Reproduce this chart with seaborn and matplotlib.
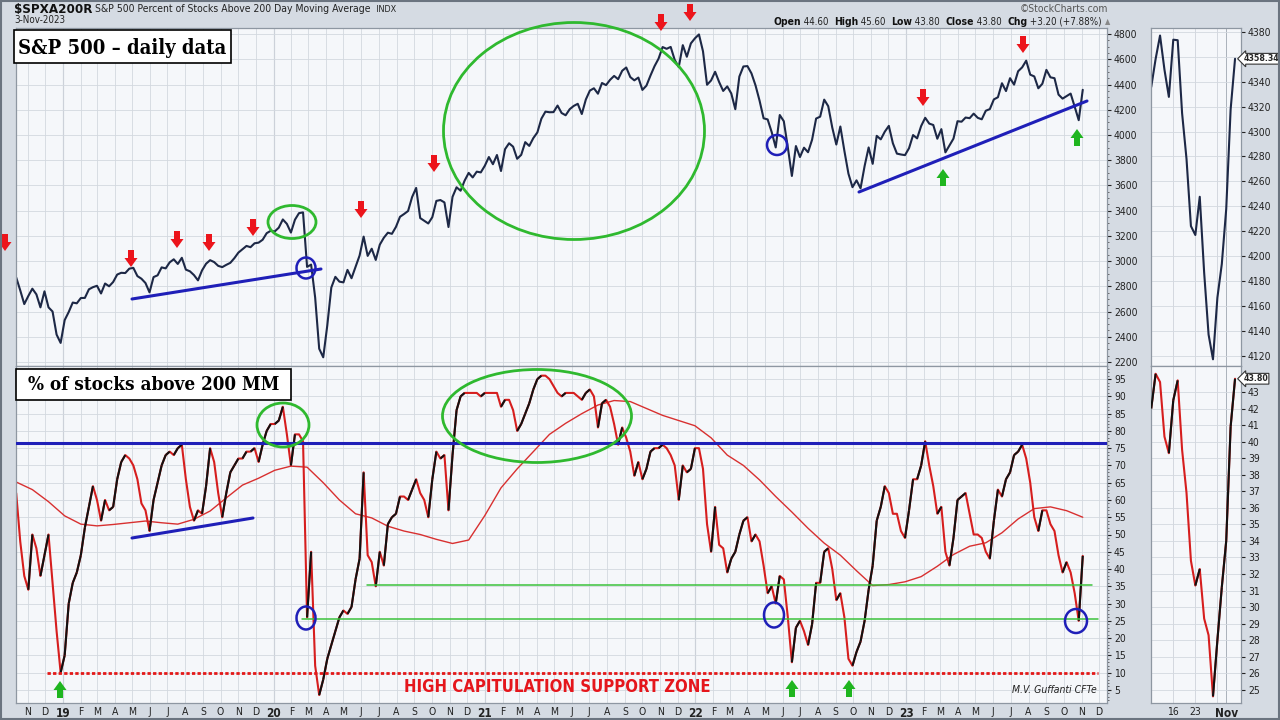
import numpy as np
import pandas as pd
import matplotlib
matplotlib.use("Agg")
import matplotlib.pyplot as plt
import matplotlib.dates as mdates
from matplotlib.collections import LineCollection
from matplotlib.patches import Ellipse, Polygon, Rectangle
from matplotlib.lines import Line2D
from matplotlib.ticker import MultipleLocator
from matplotlib import font_manager as fm
import seaborn as sns

# ---------------- DATA ----------------
WEEK_START = "2018-10-12"   # weekly samples (Fridays)

spx_close = [
    2870, 2768, 2659, 2723, 2781, 2736, 2633, 2760, 2633, 2600, 2417, 2351,
    2532, 2596, 2671, 2665, 2707, 2708, 2776, 2793, 2804, 2743, 2822, 2800,
    2834, 2893, 2907, 2905, 2940, 2946, 2881, 2860, 2826, 2752, 2873, 2887,
    2950, 2942, 2990, 3014, 2977, 3026, 2932, 2919, 2889, 2847, 2926, 2979,
    3007, 2992, 2962, 2952, 2970, 2986, 3023, 3067, 3093, 3120, 3110, 3141,
    3146, 3169, 3221, 3240, 3235, 3265, 3330, 3295, 3226, 3328, 3380, 3386,
    2954, 2972, 2711, 2305, 2237, 2489, 2790, 2875, 2837, 2831, 2930, 2864,
    2955, 3044, 3194, 3041, 3098, 3009, 3130, 3185, 3225, 3216, 3271, 3351,
    3373, 3397, 3508, 3580, 3341, 3319, 3298, 3348, 3477, 3484, 3465, 3270,
    3509, 3585, 3558, 3638, 3699, 3663, 3709, 3703, 3756, 3825, 3768, 3841,
    3714, 3887, 3934, 3907, 3811, 3842, 3943, 3913, 3975, 4020, 4129, 4185,
    4180, 4181, 4233, 4174, 4156, 4204, 4230, 4247, 4166, 4281, 4352, 4370,
    4327, 4412, 4395, 4437, 4468, 4442, 4509, 4535, 4459, 4433, 4455, 4357,
    4391, 4471, 4545, 4605, 4697, 4683, 4698, 4595, 4538, 4712, 4620, 4726,
    4766, 4797, 4663, 4398, 4432, 4501, 4419, 4349, 4385, 4329, 4204, 4463,
    4543, 4546, 4488, 4393, 4272, 4132, 4123, 4023, 3901, 4158, 4109, 3901,
    3675, 3912, 3825, 3899, 3863, 3962, 4130, 4145, 4280, 4228, 4058, 3924,
    4067, 3873, 3693, 3586, 3640, 3577, 3753, 3901, 3771, 3993, 3965, 4026,
    4072, 3934, 3852, 3845, 3840, 3895, 3999, 3973, 4071, 4136, 4090, 4079,
    3970, 4046, 3862, 3917, 3971, 4109, 4105, 4138, 4133, 4169, 4136, 4124,
    4192, 4205, 4282, 4299, 4410, 4348, 4450, 4399, 4505, 4536, 4589, 4478,
    4464, 4370, 4406, 4516, 4457, 4450, 4320, 4288, 4308, 4328, 4224, 4117,
    4358,
]

pct_above_200 = [
    62, 48, 38, 34, 50, 46, 38, 44, 50, 36, 22, 10,
    15, 30, 36, 39, 44, 52, 58, 64, 60, 54, 60, 57,
    58, 66, 71, 73, 72, 70, 66, 59, 57, 51, 60, 65,
    70, 73, 74, 73, 75, 76, 66, 58, 54, 57, 56, 64,
    75, 71, 62, 55, 62, 68, 70, 72, 72, 74, 74, 75,
    71, 76, 80, 82, 82, 83, 87, 79, 70, 79, 79, 77,
    26, 45, 12, 3.5, 8, 14, 18, 22, 26, 28, 27, 29,
    37, 43, 68, 44,
    42, 35, 45, 41, 53, 55, 56, 61, 61, 60, 63, 66,
    62, 60, 55, 66, 74, 72, 73, 57, 73, 86, 90, 91,
    91, 91, 91, 90, 91, 91, 91, 91, 87, 89, 89, 86,
    80, 82, 85, 88, 92, 95, 96, 96, 95, 93, 91, 90,
    91, 91, 91, 90, 89, 91, 92, 90, 81, 88, 89, 87,
    82, 76, 81, 78, 74, 67, 71, 66, 69, 74, 75, 75,
    76, 75, 73, 70, 60, 70, 68, 69, 75, 75, 69, 53,
    45, 58, 47, 46, 39, 43, 45, 50, 54, 55, 48, 50,
    48, 41, 33, 35, 30, 38, 37, 26, 13, 23, 25, 22,
    18, 24, 36, 36, 45, 46, 40, 31, 33, 26, 14, 12,
    16, 19, 25, 34, 41, 54, 58, 64, 62, 56, 56, 51,
    49, 57, 66, 66, 70, 77, 70, 64, 56, 58, 45, 41,
    49, 60, 61, 62, 56, 50, 50, 49, 45, 43, 54, 63,
    61, 66, 68, 73, 74, 76, 72, 65, 55, 51, 57, 57,
    53, 51, 44, 39, 42, 39, 33, 25, 43.8,
]

# 200-day moving average of the breadth line, one value every 4 weeks
pct_ma200_4w = [
    65.2, 63.0, 59.5, 55.4, 53.0, 52.5, 52.9, 53.4, 53.9, 53.4,
    53.0, 54.4, 56.8, 60.6, 64.3, 66.3, 68.6, 69.8, 69.5, 65.0,
    60.0, 56.0, 54.8, 52.4, 51.0, 50.0, 48.6, 47.4, 48.4, 55.5,
    63.5, 69.0, 74.0, 79.0, 82.2, 85.0, 87.5, 88.8, 88.5, 86.5,
    84.5, 83.0, 81.5, 78.0, 73.0, 70.0, 65.8, 61.0, 56.5, 51.8,
    47.5, 44.0, 39.5, 35.2, 35.5, 36.3, 37.8, 40.8, 44.2, 46.6,
    47.6, 50.5, 54.5, 57.5, 58.0, 56.9, 55.0,
]

# zoom panels: last trading days (Oct 9 - Nov 3, 2023)
side_days = ["Oct 9", "Oct 10", "Oct 11", "Oct 12", "Oct 13", "Oct 16", "Oct 17",
             "Oct 18", "Oct 19", "Oct 20", "Oct 23", "Oct 24", "Oct 25", "Oct 26",
             "Oct 27", "Oct 30", "Oct 31", "Nov 1", "Nov 2", "Nov 3"]
side_spx = [4335.66, 4358.24, 4376.95, 4349.61, 4327.78, 4373.63, 4373.20,
            4314.60, 4278.00, 4224.16, 4217.04, 4247.68, 4186.77, 4137.23,
            4117.37, 4166.82, 4193.80, 4237.86, 4317.78, 4358.34]
side_pct = [42.0, 44.1, 43.6, 40.3, 39.3, 42.5, 43.7, 39.5, 36.9, 32.8,
            31.3, 32.3, 29.3, 28.3, 24.6, 28.0, 31.2, 34.0, 40.9, 43.8]
side_tick_pos = [5, 10, 17]
side_tick_labels = ["16", "23", "Nov"]

resistance_level = 76.4
support_levels = [35.3, 25.6]
capitulation_level = 10

# ---------------- STYLE ----------------
sns.set_style("white")
names = {f.name for f in fm.fontManager.ttflist}
NARROW = "Liberation Sans Narrow" if "Liberation Sans Narrow" in names else "DejaVu Sans"
plt.rcParams["font.family"] = [NARROW, "DejaVu Sans"]
plt.rcParams["font.stretch"] = "condensed"

W, H = 1280, 720
BG = "#d5dbe3"
PLOT_BG = "#f5f7fa"
GRID = "#d3d8df"
YEARGRID = "#aab1bb"
SPINE = "#8e97a2"
NAVY = "#1d2846"
RED = "#d61e1e"
BLACK = "#111111"
BLUE = "#1f1fb8"
GREEN = "#2fb92f"

fig = plt.figure(figsize=(12.8, 7.2), dpi=100, facecolor=BG)


def rect(l, t, r, b):
    return [l / W, 1 - b / H, (r - l) / W, (b - t) / H]


def fx(px):
    return px / W


def fy(py):
    return 1 - py / H


L, R = 16, 1107
T1, B1 = 28, 366
T2, B2 = 366, 703
SL, SR = 1151, 1241

ax_t = fig.add_axes(rect(L, T1, R, B1))
ax_b = fig.add_axes(rect(L, T2, R, B2))
ax_st = fig.add_axes(rect(SL, T1, SR, B1))
ax_sb = fig.add_axes(rect(SL, T2, SR, B2))

dates = pd.date_range(WEEK_START, periods=len(spx_close), freq="7D")
df = pd.DataFrame({"date": dates, "spx": spx_close, "pct": pct_above_200})
ma_df = pd.DataFrame({"date": dates[::4], "ma": pct_ma200_4w})

# ---- main top: S&P 500 ----
sns.lineplot(data=df, x="date", y="spx", ax=ax_t, color=NAVY, lw=1.5, legend=False)

# ---- main bottom: breadth ----
sns.lineplot(data=ma_df, x="date", y="ma", ax=ax_b, color="#d83030", lw=1.0, legend=False)
sns.lineplot(data=df, x="date", y="pct", ax=ax_b, color=RED, lw=1.5, legend=False)
xn = mdates.date2num(df["date"])
pv = np.asarray(pct_above_200, dtype=float)
pts = np.column_stack([xn, pv])
segs = np.stack([pts[:-1], pts[1:]], axis=1)
up = np.diff(pv) > 0
ax_b.add_collection(LineCollection(segs[up], colors=BLACK, lw=1.5, zorder=3))

x0 = pd.Timestamp(WEEK_START) - pd.Timedelta(hours=8)
x1 = pd.Timestamp("2023-12-15")
month_starts = pd.date_range("2018-11-01", "2023-12-01", freq="MS")
month_labels = [str(d.year % 100) if d.month == 1 else "JFMAMJJASOND"[d.month - 1]
                for d in month_starts]

for ax in (ax_t, ax_b):
    ax.set_facecolor(PLOT_BG)
    ax.set_xlim(x0, x1)
    ax.set_xticks(month_starts)
    ax.grid(True, axis="both", color=GRID, lw=0.6)
    for d in month_starts:
        if d.month == 1:
            ax.axvline(d, color=YEARGRID, lw=0.8, zorder=0.5)
    ax.yaxis.tick_right()
    ax.tick_params(axis="y", which="major", length=3, pad=2, labelsize=7.5,
                   colors="#222222", direction="out")
    ax.tick_params(axis="y", which="minor", length=1.5, direction="out", colors="#555555")
    ax.set_xlabel("")
    ax.set_ylabel("")
    for s in ax.spines.values():
        s.set_color(SPINE)
        s.set_linewidth(0.9)

ax_t.set_ylim(2168, 4848)
ax_t.set_yticks(range(2200, 4801, 200))
ax_t.yaxis.set_minor_locator(MultipleLocator(50))
ax_t.tick_params(axis="x", length=0, labelbottom=False)

ax_b.set_ylim(1.2, 98.8)
ax_b.set_yticks(range(5, 96, 5))
ax_b.yaxis.set_minor_locator(MultipleLocator(1))
ax_b.set_xticklabels(month_labels)
ax_b.tick_params(axis="x", length=0, pad=3, labelsize=7.5, colors="#222222")
for lab, d in zip(ax_b.get_xticklabels(), month_starts):
    if d.month == 1:
        lab.set_fontweight("bold")
        lab.set_fontsize(8.5)

# reference levels in the breadth panel
ytr = ax_b.get_yaxis_transform()


def axfrac(px):
    return (px - L) / (R - L)


ax_b.axhline(resistance_level, color=BLUE, lw=2.2, zorder=4)
ax_b.plot([axfrac(367), axfrac(1092)], [support_levels[0]] * 2, transform=ytr,
          color="#3cc23c", lw=1.1, zorder=4)
ax_b.plot([axfrac(302), axfrac(1098)], [support_levels[1]] * 2, transform=ytr,
          color="#3cc23c", lw=1.1, zorder=4)
ax_b.plot([axfrac(47), axfrac(1098)], [capitulation_level] * 2, transform=ytr,
          color="#e31818", lw=2.0, ls=(0, (1.2, 0.8)), zorder=4)

# ---- side panels ----
idx = np.arange(len(side_days))
sns.lineplot(x=idx, y=side_spx, ax=ax_st, color=NAVY, lw=1.5, legend=False)
sns.lineplot(x=idx, y=side_pct, ax=ax_sb, color=RED, lw=1.5, legend=False)
sp = np.asarray(side_pct)
spts = np.column_stack([idx, sp])
ssegs = np.stack([spts[:-1], spts[1:]], axis=1)
sup = np.diff(sp) > 0
ax_sb.add_collection(LineCollection(ssegs[sup], colors=BLACK, lw=1.5, zorder=3))

for ax in (ax_st, ax_sb):
    ax.set_facecolor(PLOT_BG)
    ax.set_xlim(-0.05, 20.35)
    ax.set_xticks(side_tick_pos)
    ax.grid(True, axis="y", color=GRID, lw=0.6)
    for p in [5, 10, 15, 17]:
        ax.axvline(p, color=GRID if p != 17 else YEARGRID, lw=0.7, zorder=0.5)
    ax.yaxis.tick_right()
    ax.tick_params(axis="y", length=3, pad=2, labelsize=7.5, colors="#222222")
    ax.set_xlabel("")
    ax.set_ylabel("")
    for s in ax.spines.values():
        s.set_color(SPINE)
        s.set_linewidth(0.9)

side_top_ticks = list(range(4120, 4381, 20))
ax_st.set_ylim(4112, 4383)
ax_st.set_yticks(side_top_ticks)
# the last-value label covers the 4360 tick label, as in the reference
ax_st.set_yticklabels(["" if v == 4360 else str(v) for v in side_top_ticks])
ax_st.tick_params(axis="x", length=0, labelbottom=False)
ax_sb.set_ylim(24.2, 44.57)
ax_sb.set_yticks(range(25, 44))
ax_sb.set_xticklabels(side_tick_labels)
ax_sb.tick_params(axis="x", length=0, pad=3, labelsize=7.5, colors="#222222")
ax_sb.get_xticklabels()[-1].set_fontweight("bold")
ax_sb.get_xticklabels()[-1].set_fontsize(8.5)

for ax, val in ((ax_st, side_spx[-1]), (ax_sb, side_pct[-1])):
    ax.text(1.025, val, f"{val:.2f}", transform=ax.get_yaxis_transform(),
            fontsize=6.3, fontweight="bold", va="center", ha="left", clip_on=False, zorder=20,
            bbox=dict(boxstyle="larrow,pad=0.1", fc="white", ec="#333333", lw=0.8))

# ---------------- ANNOTATIONS (figure pixel positions) ----------------


def block_arrow(cx, top, color, down=True):
    hw, sw, sh, hh = 6.5, 3.0, 8, 9
    if down:
        pts = [(cx - sw, top), (cx + sw, top), (cx + sw, top + sh), (cx + hw, top + sh),
               (cx, top + sh + hh), (cx - hw, top + sh), (cx - sw, top + sh)]
    else:
        pts = [(cx, top), (cx + hw, top + hh), (cx + sw, top + hh), (cx + sw, top + hh + sh),
               (cx - sw, top + hh + sh), (cx - sw, top + hh), (cx - hw, top + hh)]
    fig.add_artist(Polygon([(fx(x), fy(y)) for x, y in pts], closed=True,
                           transform=fig.transFigure, fc=color, ec="none", zorder=10))


for cx, top in [(5, 234), (131, 250), (177, 231), (209, 234), (253, 219), (361, 201),
                (434, 155), (661, 14), (690, 4), (923, 89), (1023, 36)]:
    block_arrow(cx, top, "#ec141b", down=True)
for cx, top in [(943, 169), (1077, 129), (60, 681), (792, 680), (849, 680)]:
    block_arrow(cx, top, "#1fb51f", down=False)


def ell(cx, cy, w, h, color, lw=2.0):
    fig.add_artist(Ellipse((fx(cx), fy(cy)), w / W, h / H, transform=fig.transFigure,
                           fill=False, ec=color, lw=lw, zorder=10))


ell(292, 222, 48, 33, GREEN)
ell(574, 131, 261, 217, GREEN)
ell(283, 425, 52, 44, GREEN)
ell(537, 416, 189, 93, GREEN)
for cx, cy, w, h in [(306, 268, 19, 21), (777, 145, 20, 20), (306, 618, 19, 23),
                     (774, 615, 20, 25), (1076, 621, 22, 24)]:
    ell(cx, cy, w, h, BLUE, lw=1.8)


def seg(x1_, y1_, x2_, y2_, color, lw):
    fig.add_artist(Line2D([fx(x1_), fx(x2_)], [fy(y1_), fy(y2_)], transform=fig.transFigure,
                          color=color, lw=lw, zorder=9))


seg(132, 299, 321, 269, BLUE, 2.2)
seg(859, 192, 1087, 101, BLUE, 2.2)
seg(132, 538, 253, 518, BLUE, 2.2)

# title boxes
for (l, t, r, b), txt, fs in [((14, 30, 231, 63), "S&P 500 \u2013 daily data", 14.5),
                              ((16, 369, 291, 400), "% of stocks above 200 MM", 13.5)]:
    fig.add_artist(Rectangle((fx(l), fy(b)), (r - l) / W, (b - t) / H, transform=fig.transFigure,
                             fc="white", ec="black", lw=1.2, zorder=11))
    fig.text(fx((l + r) / 2), fy((t + b) / 2 + 1), txt, ha="center", va="center",
             fontsize=fs, fontweight="bold", family=["DejaVu Serif"], fontstretch="condensed",
             color="black", zorder=12)

fig.text(fx(557), fy(687), "HIGH CAPITULATION SUPPORT ZONE", ha="center", va="center",
         fontsize=12, fontweight="bold", color="#e5161c", zorder=12)
fig.text(fx(1097), fy(690), "M.V. Guffanti CFTe", ha="right", va="center",
         fontsize=7.5, style="italic", color="#222222", zorder=12)

# header texts
renderer = fig.canvas.get_renderer()


def seq_text(x_px, y_px, parts, align="left"):
    arts = [fig.text(0, fy(y_px), s, ha="left", va="center", **kw) for s, kw in parts]
    widths = [a.get_window_extent(renderer).width for a in arts]
    x = x_px if align == "left" else x_px - sum(widths)
    for a, w_ in zip(arts, widths):
        a.set_x(fx(x))
        x += w_


seq_text(14, 9, [("$SPXA200R", dict(fontsize=9.5, fontweight="bold", color="#111111")),
                 (" S&P 500 Percent of Stocks Above 200 Day Moving Average",
                  dict(fontsize=7.5, color="#222222")),
                 ("  INDX", dict(fontsize=6.5, color="#222222"))])
fig.text(fx(14), fy(20), "3-Nov-2023", ha="left", va="center", fontsize=7, color="#222222")
fig.text(fx(1108), fy(9), "\u00a9StockCharts.com", ha="right", va="center", fontsize=7.5,
         color="#555555")
bold = dict(fontsize=7.5, fontweight="bold", color="#111111")
norm = dict(fontsize=7, color="#222222")
seq_text(1110, 22, [("Open", bold), (" 44.60  ", norm), ("High", bold), (" 45.60  ", norm),
                    ("Low", bold), (" 43.80  ", norm), ("Close", bold), (" 43.80  ", norm),
                    ("Chg", bold), (" +3.20 (+7.88%) ", norm),
                    ("\u25b2", dict(fontsize=5.5, color="#888888", family=["DejaVu Sans"]))],
         align="right")

# outer frame
fig.add_artist(Rectangle((0.0008, 0.001), 0.9984, 0.998, transform=fig.transFigure,
                         fill=False, ec="#6b7480", lw=1.5, zorder=20))

fig.savefig("out.png", dpi=100, facecolor=BG)
